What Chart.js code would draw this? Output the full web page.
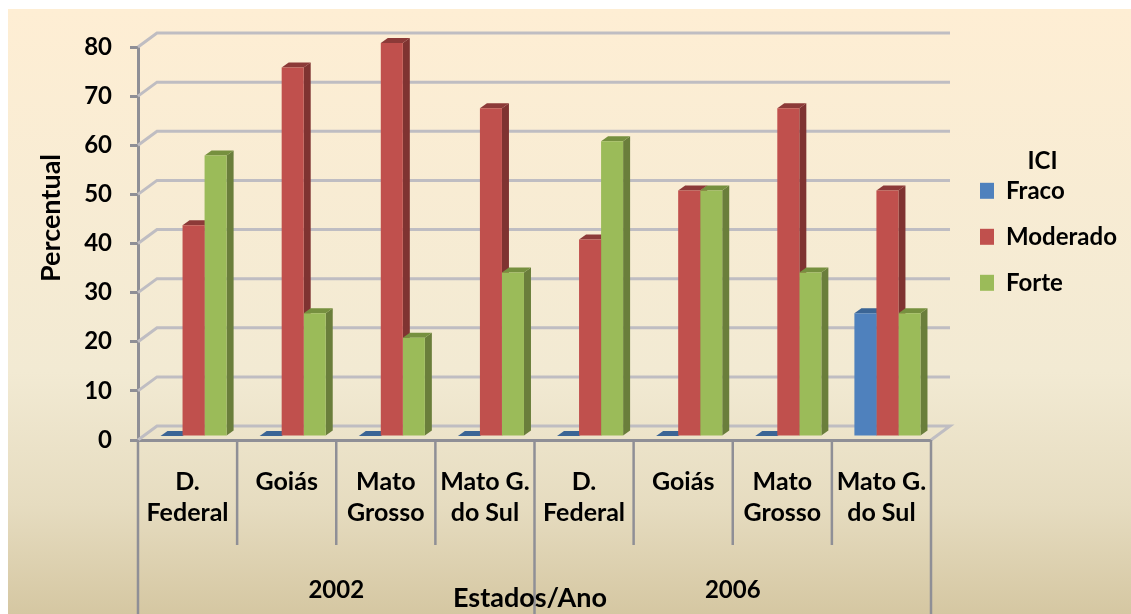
<!DOCTYPE html>
<html>
<head>
<meta charset="utf-8">
<title>ICI</title>
<script src="https://cdn.jsdelivr.net/npm/chart.js@4/dist/chart.umd.min.js"></script>
<style>
  html, body { margin: 0; padding: 0; background: #fff; }
  canvas { display: block; filter: blur(0.6px); }
</style>
</head>
<body>
<canvas id="chart" width="1131" height="614"></canvas>
<script>
const states = [['D.', 'Federal'], 'Goiás', ['Mato', 'Grosso'], ['Mato G.', 'do Sul'], ['D.', 'Federal'], 'Goiás', ['Mato', 'Grosso'], ['Mato G.', 'do Sul']];
const years = ['2002', '2006'];
const fraco = [0, 0, 0, 0, 0, 0, 0, 25];
const moderado = [42.9, 75, 80, 66.7, 40, 50, 66.7, 50];
const forte = [57.1, 25, 20, 33.3, 60, 50, 33.3, 25];

const FONT = 'Lato, "Open Sans", sans-serif';
const TEXT_FONT = { family: FONT, size: 24, weight: 'bold' };
const AXIS_GREY = '#8f8f96';
const WALL_GREY = '#bfbdc2';
const DEPTH_X = 19, DEPTH_Y = 14;       // wall offset behind the front axes
const BAR_DX = 7, BAR_DY = 5;           // bar extrusion
const SHIFT_X = 6, SHIFT_Y = -4;        // bars stand a little inside the floor

const sideColors = ['#375d8b', '#7f3331', '#6a7e3b'];
const topColors = ['#3b6595', '#8c3a38', '#76903f'];

function poly(ctx, pts, color) {
  ctx.fillStyle = color;
  ctx.beginPath();
  pts.forEach(function (p, i) { i ? ctx.lineTo(p[0], p[1]) : ctx.moveTo(p[0], p[1]); });
  ctx.closePath();
  ctx.fill();
}

const panel = {
  id: 'panel',
  beforeDraw: function (chart) {
    const ctx = chart.ctx;
    const g = ctx.createLinearGradient(0, 9, 0, 614);
    g.addColorStop(0, '#feeed4');
    g.addColorStop(0.6, '#f2ead3');
    g.addColorStop(0.82, '#e6dcc0');
    g.addColorStop(1, '#d5c7a2');
    ctx.fillStyle = g;
    ctx.fillRect(8, 9, 1123, 605);
  },
  // axis titles sit off-centre in the reference, so they are placed by hand
  afterDraw: function (chart) {
    const ctx = chart.ctx;
    ctx.save();
    ctx.fillStyle = '#000';
    ctx.font = 'bold 27px ' + FONT;
    ctx.textAlign = 'center';
    ctx.textBaseline = 'middle';
    ctx.fillText('Estados/Ano', 530, 598);
    ctx.translate(51, 218);
    ctx.rotate(-Math.PI / 2);
    ctx.fillText('Percentual', 0, 0);
    ctx.restore();
  },
};

// Back wall, floor and the separators of the two-level category axis
const walls = {
  id: 'walls',
  beforeDatasetsDraw: function (chart) {
    const ctx = chart.ctx, y = chart.scales.y, a = chart.chartArea;
    ctx.save();
    ctx.strokeStyle = WALL_GREY;
    ctx.lineWidth = 3;
    y.ticks.forEach(function (t) {
      const py = y.getPixelForValue(t.value);
      ctx.beginPath();
      ctx.moveTo(a.left, py);
      ctx.lineTo(a.left + DEPTH_X, py - DEPTH_Y);
      ctx.lineTo(a.right + DEPTH_X, py - DEPTH_Y);
      if (t.value === 0) ctx.lineTo(a.right, py);
      ctx.stroke();
    });

    ctx.strokeStyle = AXIS_GREY;
    const step = (a.right - a.left) / states.length;
    for (let i = 0; i <= states.length; i++) {
      const px = a.left + i * step;
      ctx.lineWidth = 2.5;
      ctx.beginPath();
      ctx.moveTo(px, a.bottom);
      ctx.lineTo(px, i % 4 === 0 ? 614 : 545);
      ctx.stroke();
    }
    ctx.restore();

    // extruded faces first, the library paints the fronts over them
    ctx.save();
    ctx.translate(SHIFT_X, SHIFT_Y);
    chart.data.datasets.forEach(function (ds, d) {
      chart.getDatasetMeta(d).data.forEach(function (el) {
        const l = el.x - el.width / 2, r = el.x + el.width / 2;
        poly(ctx, [[r, el.y], [r + BAR_DX, el.y - BAR_DY], [r + BAR_DX, el.base - BAR_DY], [r, el.base]], sideColors[d]);
        poly(ctx, [[l, el.y], [l + BAR_DX, el.y - BAR_DY], [r + BAR_DX, el.y - BAR_DY], [r, el.y]], topColors[d]);
      });
    });
  },
  afterDatasetsDraw: function (chart) {
    chart.ctx.restore();
  },
  afterLayout: function (chart) {
    const lg = chart.legend;
    lg.left = 958;
    lg.right = 1131;
    lg.top = 118;
    lg.bottom = 320;
  },
};

new Chart(document.getElementById('chart'), {
  type: 'bar',
  data: {
    labels: states,
    datasets: [
      { label: 'Fraco', data: fraco, backgroundColor: '#4f81bd', clip: false },
      { label: 'Moderado', data: moderado, backgroundColor: '#c0504d', clip: false },
      { label: 'Forte', data: forte, backgroundColor: '#9bbb59', clip: false },
    ],
  },
  plugins: [panel, walls],
  options: {
    responsive: false,
    animation: false,
    datasets: { bar: { categoryPercentage: 2 / 3, barPercentage: 1, borderWidth: 0 } },
    layout: { padding: { left: 38, right: 200, top: 47, bottom: 0 } },
    plugins: {
      tooltip: { enabled: false },
      legend: {
        position: 'chartArea',
        align: 'start',
        title: { display: true, text: 'ICI', color: '#000', padding: { top: 31, bottom: -21 }, font: TEXT_FONT },
        labels: { boxWidth: 14, boxHeight: 16, padding: 22, color: '#000', font: TEXT_FONT },
      },
    },
    scales: {
      y: {
        min: 0, max: 80,
        afterFit: function (s) { s.width = 100; },
        border: { color: AXIS_GREY, width: 3 },
        grid: { drawOnChartArea: false, tickLength: 8, tickWidth: 3, tickColor: AXIS_GREY },
        ticks: { stepSize: 10, padding: 18, color: '#000', font: TEXT_FONT },
      },
      x: {
        afterFit: function (s) { s.height = 120; },
        border: { color: AXIS_GREY, width: 3 },
        grid: { drawOnChartArea: false, drawTicks: false },
        ticks: { autoSkip: false, maxRotation: 0, padding: 26, color: '#000', font: { family: FONT, size: 25, weight: 'bold', lineHeight: 1.25 } },
      },
      x2: {
        type: 'category',
        labels: years,
        position: 'bottom',
        afterFit: function (s) { s.height = 54; },
        border: { display: false },
        grid: { display: false },
        ticks: { padding: 8, color: '#000', font: TEXT_FONT },
      },
    },
  },
});
</script>
</body>
</html>
